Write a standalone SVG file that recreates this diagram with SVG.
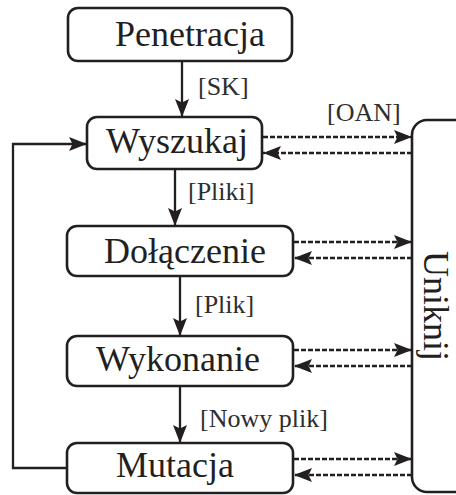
<svg xmlns="http://www.w3.org/2000/svg" width="456" height="495" viewBox="0 0 456 495">
  <defs>
    <marker id="arrow" markerUnits="userSpaceOnUse" markerWidth="20" markerHeight="16" refX="18" refY="7" orient="auto">
      <path d="M0,0 L18,7 L0,14 L3.5,7 Z" fill="#231f20"/>
    </marker>
    <style>
      .box { fill: #ffffff; stroke: #231f20; stroke-width: 2.6; }
      .node-text { font-family: "Liberation Serif", "Times New Roman", serif; font-size: 36px; fill: #231f20; text-anchor: middle; }
      .label { font-family: "Liberation Serif", "Times New Roman", serif; font-size: 26px; fill: #2e2e2e; }
      .flow { fill: none; stroke: #231f20; stroke-width: 2.3; }
      .dash { fill: none; stroke: #231f20; stroke-width: 2.4; stroke-dasharray: 5 2; }
    </style>
  </defs>
  <rect width="456" height="495" fill="#ffffff"/>

  <!-- connectors -->
  <g id="connectors">
    <line class="flow" x1="182" y1="61" x2="182" y2="117" marker-end="url(#arrow)"/>
    <line class="flow" x1="175" y1="169" x2="175" y2="226" marker-end="url(#arrow)"/>
    <line class="flow" x1="180" y1="276" x2="180" y2="336" marker-end="url(#arrow)"/>
    <line class="flow" x1="180" y1="386" x2="180" y2="443" marker-end="url(#arrow)"/>
    <path class="flow" d="M67,468 H13 V144 H87" marker-end="url(#arrow)"/>

    <line class="dash" x1="263" y1="137" x2="412" y2="137" marker-end="url(#arrow)"/>
    <line class="dash" x1="412" y1="153" x2="263" y2="153" marker-end="url(#arrow)"/>
    <line class="dash" x1="294" y1="242" x2="412" y2="242" marker-end="url(#arrow)"/>
    <line class="dash" x1="412" y1="258" x2="294" y2="258" marker-end="url(#arrow)"/>
    <line class="dash" x1="294" y1="350" x2="412" y2="350" marker-end="url(#arrow)"/>
    <line class="dash" x1="412" y1="366" x2="294" y2="366" marker-end="url(#arrow)"/>
    <line class="dash" x1="294" y1="459" x2="412" y2="459" marker-end="url(#arrow)"/>
    <line class="dash" x1="412" y1="475" x2="294" y2="475" marker-end="url(#arrow)"/>

    <text class="label" x="198" y="95">[SK]</text>
    <text class="label" x="188" y="200">[Pliki]</text>
    <text class="label" x="195" y="313">[Plik]</text>
    <text class="label" x="200" y="427">[Nowy plik]</text>
    <text class="label" x="327" y="121">[OAN]</text>
  </g>

  <g id="penetracja">
    <rect class="box" x="68" y="8" width="224" height="53" rx="10"/>
    <text class="node-text" x="190" y="46">Penetracja</text>
  </g>
  <g id="wyszukaj">
    <rect class="box" x="87" y="117" width="175" height="52" rx="10"/>
    <text class="node-text" x="177" y="153">Wyszukaj</text>
  </g>
  <g id="dolaczenie">
    <rect class="box" x="67" y="226" width="226" height="50" rx="10"/>
    <text class="node-text" x="185" y="263">Dołączenie</text>
  </g>
  <g id="wykonanie">
    <rect class="box" x="67" y="336" width="226" height="50" rx="10"/>
    <text class="node-text" x="178" y="371">Wykonanie</text>
  </g>
  <g id="mutacja">
    <rect class="box" x="67" y="443" width="226" height="50" rx="10"/>
    <text class="node-text" x="175" y="477">Mutacja</text>
  </g>
  <g id="uniknij">
    <!-- tall side panel, its right edge runs past the canvas -->
    <path class="box" d="M470,120 H427 A15,15 0 0 0 412,135 V477 A15,15 0 0 0 427,492 H470"/>
    <text class="node-text" transform="translate(424,306) rotate(90)" x="0" y="0">Uniknij</text>
  </g>
</svg>
